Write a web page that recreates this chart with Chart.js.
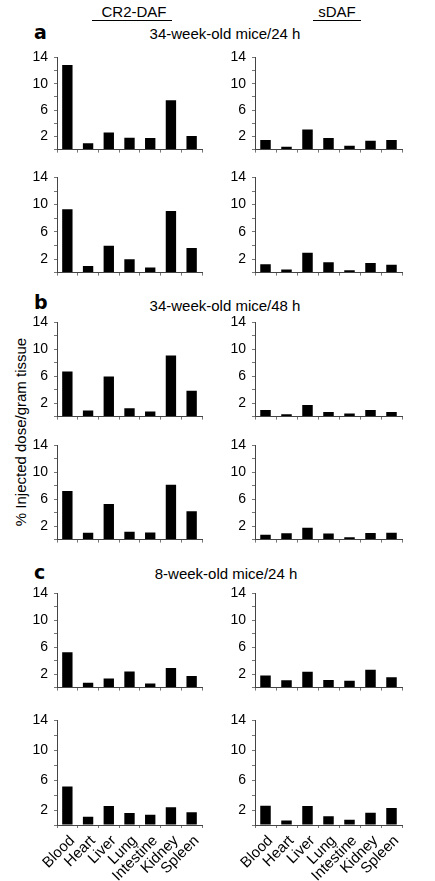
<!DOCTYPE html>
<html>
<head>
<meta charset="utf-8">
<script src="https://cdn.jsdelivr.net/npm/chart.js@4"></script>
<style>
  body { margin: 0; background: #fff; width: 435px; height: 881px; position: relative; overflow: hidden;
         font-family: "Liberation Sans", Arial, sans-serif; color: #000; }
  .t { position: absolute; white-space: nowrap; transform: translate(-50%, -50%); font-size: 15px; }
  .letter { position: absolute; font-family: "DejaVu Sans", sans-serif; font-weight: bold; font-size: 19px; transform: translateY(-50%); }
  .rule { position: absolute; height: 1px; background: #000; }
  canvas { position: absolute; }
</style>
</head>
<body>

<!-- ── Column headers ── -->
<div class="t" style="left:134px; top:11px;">CR2-DAF</div>
<div class="rule" style="left:92px; top:20px; width:80px;"></div>
<div class="t" style="left:337px; top:11px;">sDAF</div>
<div class="rule" style="left:313px; top:20px; width:48px;"></div>

<!-- ── Panel letters and titles ── -->
<div class="letter" style="left:34px; top:32px;">a</div>
<div class="t" style="left:225px; top:33px;">34-week-old mice/24 h</div>
<div class="letter" style="left:34px; top:302px;">b</div>
<div class="t" style="left:225px; top:305px;">34-week-old mice/48 h</div>
<div class="letter" style="left:34px; top:572px;">c</div>
<div class="t" style="left:226px; top:573px;">8-week-old mice/24 h</div>

<!-- ── Shared y title ── -->
<div class="t" style="left:20px; top:432px; transform: translate(-50%, -50%) rotate(-90deg);">% Injected dose/gram tissue</div>

<script>
// ── Data ──
const organs = ['Blood', 'Heart', 'Liver', 'Lung', 'Intestine', 'Kidney', 'Spleen'];
const yLabels = [2, 6, 10, 14];

// a: 34-week-old mice / 24 h
const a1Cr2 = [12.85, 0.95, 2.6, 1.8, 1.75, 7.5, 2.05];
const a1Sdaf = [1.45, 0.45, 3.05, 1.75, 0.57, 1.35, 1.45];
const a2Cr2 = [9.3, 0.97, 3.95, 1.95, 0.76, 9.05, 3.6];
const a2Sdaf = [1.22, 0.46, 2.93, 1.53, 0.34, 1.4, 1.15];

// b: 34-week-old mice / 48 h
const b1Cr2 = [6.7, 0.9, 5.95, 1.23, 0.77, 9.07, 3.85];
const b1Sdaf = [0.98, 0.34, 1.71, 0.68, 0.47, 0.98, 0.68];
const b2Cr2 = [7.24, 1.03, 5.3, 1.16, 1.07, 8.14, 4.22];
const b2Sdaf = [0.73, 0.95, 1.77, 0.9, 0.34, 0.99, 1.03];

// c: 8-week-old mice / 24 h
const c1Cr2 = [5.26, 0.73, 1.34, 2.41, 0.6, 2.93, 1.72];
const c1Sdaf = [1.81, 1.08, 2.37, 1.12, 1.03, 2.67, 1.55];
const c2Cr2 = [5.15, 1.12, 2.54, 1.59, 1.38, 2.37, 1.72];
const c2Sdaf = [2.58, 0.6, 2.54, 1.16, 0.69, 1.63, 2.28];

// ── Layout: pixel y of the 14 tick and of the baseline per row ──
const rows = [
    { top: 53,  base: 160, left: a1Cr2, right: a1Sdaf },
    { top: 173, base: 283, left: a2Cr2, right: a2Sdaf },
    { top: 318, base: 427, left: b1Cr2, right: b1Sdaf },
    { top: 441, base: 550, left: b2Cr2, right: b2Sdaf },
    { top: 589, base: 698, left: c1Cr2, right: c1Sdaf },
    { top: 716, base: 825, left: c2Cr2, right: c2Sdaf },
];
const cols = [
    { axis: 57,  end: 202, key: 'left' },
    { axis: 255, end: 402, key: 'right' },
];

const FONT = { family: "'Liberation Sans', Arial, sans-serif", size: 14 };
const LABEL_FONT = { family: "'Liberation Sans', Arial, sans-serif", size: 15 };

function makePanel(values, col, row, showLabels) {
    const padTop = 10, yWidth = 40, padRight = 4;
    const xHeight = showLabels ? 70 : 4;
    const left = col.axis - yWidth;
    const w = col.end - left + padRight + (showLabels ? 10 : 0);
    const h = (row.base - row.top) + padTop + xHeight;

    const canvas = document.createElement('canvas');
    canvas.width = w;
    canvas.height = h;
    canvas.style.left = left + 'px';
    canvas.style.top = (row.top - padTop) + 'px';
    canvas.style.width = w + 'px';
    canvas.style.height = h + 'px';
    document.body.appendChild(canvas);

    return new Chart(canvas.getContext('2d'), {
        type: 'bar',
        data: {
            labels: organs,
            datasets: [{
                data: values,
                backgroundColor: '#000',
                borderWidth: 0,
                barPercentage: 0.5,
                categoryPercentage: 1,
            }]
        },
        options: {
            responsive: false,
            animation: false,
            devicePixelRatio: 1,
            layout: { padding: { top: padTop, right: w - (col.end - left), left: 0, bottom: 0 } },
            plugins: { legend: { display: false }, tooltip: { enabled: false } },
            scales: {
                x: {
                    afterFit: function (s) { s.height = xHeight; s.paddingRight = 0; },
                    grid: { drawOnChartArea: false, tickLength: 3, color: '#777', offset: true },
                    border: { color: '#444', width: 1 },
                    ticks: {
                        display: showLabels,
                        color: '#000',
                        font: LABEL_FONT,
                        minRotation: 45,
                        maxRotation: 45,
                        autoSkip: false,
                        padding: 4,
                        labelOffset: 5,
                    }
                },
                y: {
                    min: 0,
                    max: 14,
                    afterFit: function (s) { s.width = yWidth; },
                    grid: { drawOnChartArea: false, tickLength: 3, color: '#777' },
                    border: { color: '#444', width: 1 },
                    ticks: {
                        stepSize: 2,
                        autoSkip: false,
                        color: '#000',
                        font: FONT,
                        padding: 6,
                        callback: function (v) { return yLabels.includes(v) ? String(v) : ''; },
                    }
                }
            }
        }
    });
}

rows.forEach(function (row, i) {
    cols.forEach(function (col) {
        makePanel(row[col.key], col, row, i === rows.length - 1);
    });
});
</script>
</body>
</html>
